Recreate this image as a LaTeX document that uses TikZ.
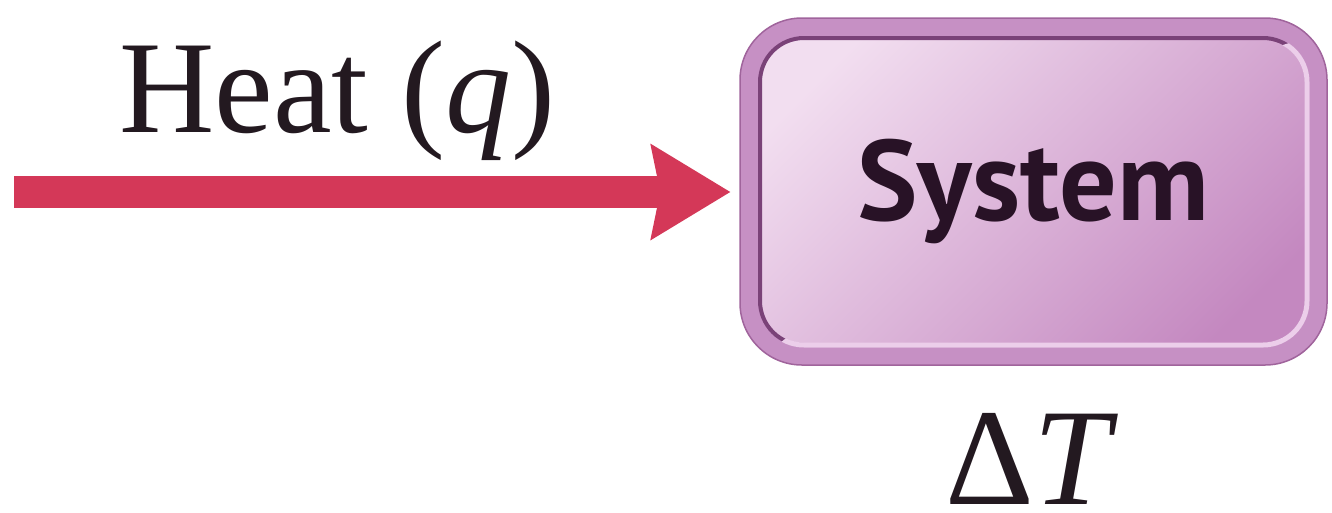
\documentclass[tikz,border=0pt]{standalone}
\usepackage{fontspec}
\setmainfont{Liberation Serif}
\newfontfamily\sysfont{PT Sans}
\usetikzlibrary{arrows.meta,calc}
\definecolor{heatcol}{RGB}{212,56,88}
\definecolor{bandcol}{RGB}{198,144,196}
\definecolor{bandedge}{RGB}{160,100,156}
\definecolor{innerlight}{RGB}{242,222,240}
\definecolor{innerdark}{RGB}{196,136,192}
\definecolor{bevdark}{RGB}{122,66,120}
\definecolor{bevlight}{RGB}{236,206,234}
\definecolor{textcol}{RGB}{35,25,32}
\definecolor{systext}{RGB}{40,18,38}
\tikzset{
  heatarrow/.style={draw=heatcol, line width=32pt,
    -{Stealth[length=80pt,width=97pt,inset=10pt,line width=0pt]},
    shorten >=9pt},
  sysbox/.style={rounded corners=62pt, minimum width=587pt, minimum height=347pt,
    inner sep=0pt, fill=bandcol, draw=bandedge, line width=1.5pt,
    text=systext, font=\sysfont\bfseries\fontsize{114}{114}\selectfont,
    path picture={
      \path[top color=innerlight, bottom color=innerdark, shading angle=45, rounded corners=44pt]
        ([shift={(20pt,-20pt)}]path picture bounding box.north west) rectangle
        ([shift={(-20pt,20pt)}]path picture bounding box.south east);
      \draw[bevdark, line width=4pt, rounded corners=44pt]
        ([shift={(20pt,-20pt)}]path picture bounding box.north west) rectangle
        ([shift={(-20pt,20pt)}]path picture bounding box.south east);
      \begin{scope}
        \clip (path picture bounding box.south west) -- (path picture bounding box.north east)
          -- (path picture bounding box.south east) -- cycle;
        \draw[bevlight, line width=5pt, rounded corners=44pt]
          ([shift={(20pt,-20pt)}]path picture bounding box.north west) rectangle
          ([shift={(-20pt,20pt)}]path picture bounding box.south east);
      \end{scope}
    }},
  serif label/.style={inner sep=0pt, text=textcol, anchor=base west}
}
\begin{document}
\begin{tikzpicture}[x=1pt,y=-1pt]
\useasboundingbox (0,0) rectangle (1332,512);
\node[sysbox] (sys) at (1033.5,191.5) {System};
\coordinate (start) at (14,192);
\draw[heatarrow] (start) -- (start -| sys.west);
\node[serif label, font=\fontsize{132}{132}\selectfont] (heat) at (119,132) {Heat (\textit{q})};
\node[serif label, font=\fontsize{138}{138}\selectfont] (dT) at (945,504) {Δ\textit{T}};
\end{tikzpicture}
\end{document}
